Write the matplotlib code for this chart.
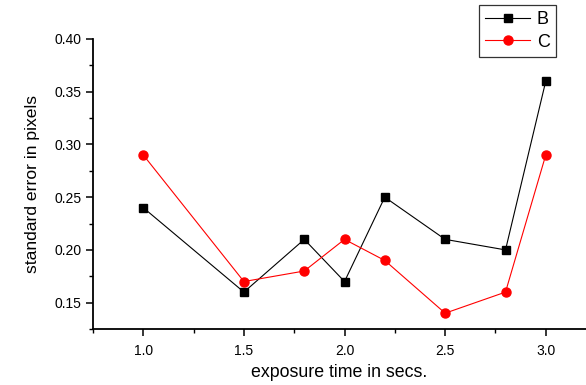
import matplotlib
matplotlib.use("Agg")
import matplotlib.pyplot as plt
from matplotlib.ticker import MultipleLocator, FormatStrFormatter

plt.rcParams['font.family'] = ['Liberation Sans', 'DejaVu Sans']

x = [1.0, 1.5, 1.8, 2.0, 2.2, 2.5, 2.8, 3.0]
b_vals = [0.24, 0.16, 0.21, 0.17, 0.25, 0.21, 0.20, 0.36]
c_vals = [0.29, 0.17, 0.18, 0.21, 0.19, 0.14, 0.16, 0.29]
x_ticks = [1.0, 1.5, 2.0, 2.5, 3.0]

fig = plt.figure(figsize=(5.86, 3.85), dpi=100)
ax = fig.add_axes([93/586, 1-329/385, 1-93/586, (329-39)/385])

ax.plot(x, b_vals, color='black', lw=0.8, marker='s', ms=5.8, mfc='black', mec='black', label='B')
ax.plot(x, c_vals, color='red', lw=0.8, marker='o', ms=6.5, mfc='red', mec='red', label='C')

ax.set_xlim(0.75, 3.2)
ax.set_ylim(0.125, 0.40)
ax.set_xticks(x_ticks)
ax.xaxis.set_minor_locator(MultipleLocator(0.25))
ax.yaxis.set_major_locator(MultipleLocator(0.05))
ax.yaxis.set_minor_locator(MultipleLocator(0.025))
ax.xaxis.set_major_formatter(FormatStrFormatter('%.1f'))
ax.yaxis.set_major_formatter(FormatStrFormatter('%.2f'))

for s in ['top', 'right']:
    ax.spines[s].set_visible(False)
for s in ['left', 'bottom']:
    ax.spines[s].set_linewidth(1.3)

ax.tick_params(which='major', direction='out', length=5, width=1.1, labelsize=10)
ax.tick_params(which='minor', direction='out', length=3, width=1.0)
ax.tick_params(axis='x', pad=6)

ax.set_xlabel('exposure time in secs.', fontsize=12.8, labelpad=4)
ax.set_ylabel('standard error in pixels', fontsize=12.6, labelpad=10)

leg = ax.legend(loc='upper left', bbox_to_anchor=(479/586, 1-5/385), bbox_transform=fig.transFigure,
                borderaxespad=0, fontsize=13, frameon=True, fancybox=False, edgecolor='black',
                handlelength=2.5, handletextpad=0.35, borderpad=0.35, labelspacing=0.3)
leg.get_frame().set_linewidth(0.9)

fig.savefig('out.png', dpi=100)
